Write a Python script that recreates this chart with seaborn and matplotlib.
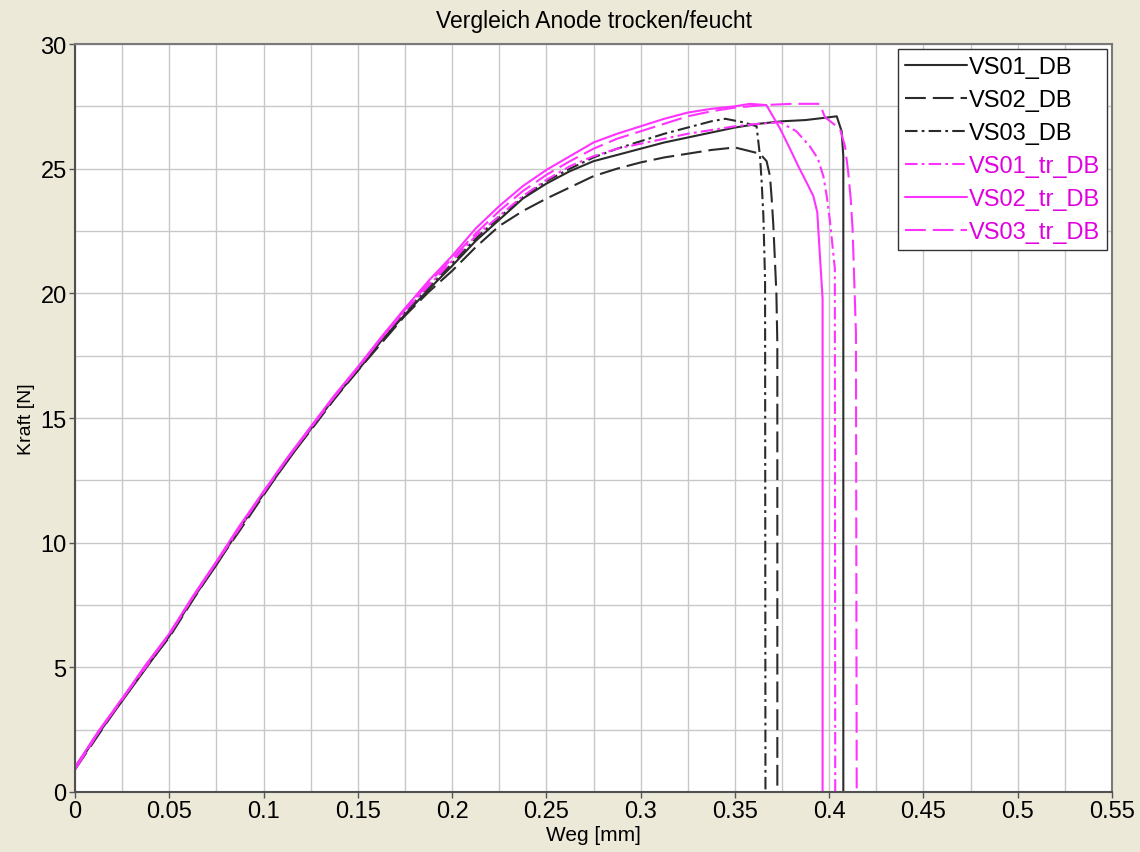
import numpy as np
import pandas as pd
import matplotlib
matplotlib.use('Agg')
import matplotlib.pyplot as plt
import seaborn as sns

# Weg [mm] / Kraft [N]
rise_x = [0, 0.0125, 0.025, 0.0375, 0.05, 0.0625, 0.075, 0.0875, 0.1, 0.1125,
          0.125, 0.1375, 0.15, 0.1625, 0.175]

vs01_db_x = rise_x + [0.1875, 0.2, 0.2125, 0.225, 0.2375, 0.25, 0.2625, 0.275, 0.2875, 0.3,
                      0.3125, 0.325, 0.3375, 0.35, 0.3625, 0.375, 0.3875, 0.3987, 0.404,
                      0.4066, 0.4075, 0.4075]
vs01_db_y = [0.95, 2.35, 3.65, 4.95, 6.25, 7.75, 9.1, 10.6, 11.95, 13.25, 14.55, 15.8, 16.9,
             18.1, 19.15, 20.15, 21.1, 22.1, 22.95, 23.8, 24.4, 24.9, 25.3, 25.55, 25.8,
             26.05, 26.25, 26.45, 26.65, 26.8, 26.9, 26.95, 27.05, 27.1, 26.5, 25.5, 0]

vs02_db_x = rise_x + [0.1875, 0.2, 0.2125, 0.225, 0.2375, 0.25, 0.2625, 0.275, 0.2875, 0.3,
                      0.3125, 0.325, 0.3375, 0.35, 0.358, 0.3633, 0.3668, 0.3686, 0.3695,
                      0.3704, 0.372, 0.3725, 0.3725]
vs02_db_y = [0.9, 2.3, 3.7, 5.0, 6.2, 7.7, 9.15, 10.5, 11.9, 13.3, 14.5, 15.75, 16.9, 18.0,
             19.1, 20.05, 20.9, 21.85, 22.7, 23.3, 23.8, 24.25, 24.7, 25.0, 25.25, 25.45,
             25.6, 25.75, 25.85, 25.7, 25.6, 25.3, 24.7, 23.8, 22.7, 20.0, 18.0, 0]

vs03_db_x = rise_x + [0.1875, 0.2, 0.2125, 0.225, 0.2375, 0.25, 0.2625, 0.275, 0.2875, 0.3,
                      0.3125, 0.325, 0.3375, 0.345, 0.355, 0.3615, 0.3633, 0.3642, 0.3651,
                      0.366, 0.3662]
vs03_db_y = [1.0, 2.4, 3.7, 5.05, 6.3, 7.8, 9.2, 10.65, 12.0, 13.3, 14.6, 15.85, 17.0, 18.15,
             19.25, 20.25, 21.2, 22.2, 23.05, 23.85, 24.5, 25.0, 25.45, 25.8, 26.1, 26.4,
             26.65, 26.9, 27.0, 26.85, 26.7, 25.5, 24.45, 23.1, 20.5, 0]

vs01_tr_x = rise_x + [0.1875, 0.2, 0.2125, 0.225, 0.2375, 0.25, 0.2625, 0.275, 0.2875, 0.3,
                      0.3125, 0.325, 0.3375, 0.35, 0.3625, 0.374, 0.3826, 0.3897, 0.394,
                      0.3969, 0.3987, 0.4004, 0.403, 0.4032]
vs01_tr_y = [0.95, 2.4, 3.75, 5.0, 6.35, 7.8, 9.2, 10.6, 12.05, 13.35, 14.6, 15.85, 17.0,
             18.2, 19.3, 20.3, 21.3, 22.3, 23.1, 23.9, 24.55, 25.1, 25.5, 25.8, 26.0, 26.2,
             26.4, 26.55, 26.7, 26.8, 26.86, 26.5, 25.9, 25.4, 24.7, 23.9, 22.9, 21.0, 0]

vs02_tr_x = rise_x + [0.1875, 0.2, 0.2125, 0.225, 0.2375, 0.25, 0.2625, 0.275, 0.2875, 0.3,
                      0.3125, 0.325, 0.3375, 0.35, 0.358, 0.3667, 0.374, 0.3792, 0.3836,
                      0.388, 0.3916, 0.3937, 0.3942, 0.3955, 0.3965, 0.3965]
vs02_tr_y = [1.0, 2.45, 3.75, 5.1, 6.35, 7.85, 9.25, 10.7, 12.05, 13.4, 14.65, 15.9, 17.05,
             18.25, 19.4, 20.5, 21.5, 22.6, 23.5, 24.3, 24.95, 25.5, 26.05, 26.4, 26.7, 27.0,
             27.25, 27.4, 27.5, 27.6, 27.55, 26.6, 25.8, 25.1, 24.45, 23.9, 23.25, 22.6,
             21.0, 19.8, 0]

vs03_tr_x = rise_x + [0.1875, 0.2, 0.2125, 0.225, 0.2375, 0.25, 0.2625, 0.275, 0.2875, 0.3,
                      0.3125, 0.325, 0.3375, 0.35, 0.365, 0.38, 0.395, 0.3978, 0.4057,
                      0.4084, 0.4101, 0.4114, 0.4124, 0.4142, 0.4146]
vs03_tr_y = [0.9, 2.4, 3.7, 5.05, 6.3, 7.8, 9.2, 10.65, 12.0, 13.35, 14.6, 15.85, 17.0,
             18.2, 19.35, 20.4, 21.4, 22.4, 23.3, 24.1, 24.75, 25.3, 25.8, 26.2, 26.5, 26.8,
             27.1, 27.3, 27.45, 27.55, 27.6, 27.6, 27.06, 26.6, 25.9, 24.85, 23.8, 22.6,
             18.4, 0]

names = ['VS01_DB', 'VS02_DB', 'VS03_DB', 'VS01_tr_DB', 'VS02_tr_DB', 'VS03_tr_DB']
xs = [vs01_db_x, vs02_db_x, vs03_db_x, vs01_tr_x, vs02_tr_x, vs03_tr_x]
ys = [vs01_db_y, vs02_db_y, vs03_db_y, vs01_tr_y, vs02_tr_y, vs03_tr_y]

x_ticks = [0, 0.05, 0.1, 0.15, 0.2, 0.25, 0.3, 0.35, 0.4, 0.45, 0.5, 0.55]
x_labels = ['0', '0.05', '0.1', '0.15', '0.2', '0.25', '0.3', '0.35', '0.4', '0.45', '0.5', '0.55']
y_ticks = [0, 5, 10, 15, 20, 25, 30]

dark = '#2b2b2b'
mag = '#ff33ff'
colors = [dark, dark, dark, mag, mag, mag]
styles = ['-', (0, (15, 5)), (0, (9, 3, 2, 3)), (0, (9, 3, 2, 3)), '-', (0, (15, 5))]
text_colors = ['black', 'black', 'black', '#e000e0', '#e000e0', '#e000e0']

sns.set_style('white')
plt.rcParams['font.family'] = ['Liberation Sans', 'DejaVu Sans']
plt.rcParams['lines.scale_dashes'] = False

fig = plt.figure(figsize=(11.4, 8.53), dpi=100, facecolor='#ece9d8')
ax = fig.add_axes([75 / 1140, 1 - 793 / 853, 1037 / 1140, 748 / 853])
ax.set_facecolor('white')

for name, x, y, c, ls in zip(names, xs, ys, colors, styles):
    df = pd.DataFrame({'Weg': x, 'Kraft': y})
    sns.lineplot(data=df, x='Weg', y='Kraft', sort=False, estimator=None, ax=ax,
                 color=c, linestyle=ls, linewidth=1.5, label=name)

ax.set_xlim(0, 0.55)
ax.set_ylim(0, 30)
ax.set_xticks(x_ticks)
ax.set_xticklabels(x_labels)
ax.set_yticks(y_ticks)
ax.set_xticks(np.arange(0.025, 0.55, 0.05), minor=True)
ax.set_yticks(np.arange(2.5, 30, 5), minor=True)
ax.grid(True, which='both', color='#c8c8c8', linewidth=1)
ax.set_axisbelow(True)
ax.tick_params(which='major', direction='out', length=4, width=1, color='#555555',
               labelsize=17, labelcolor='black', pad=2, bottom=True, left=True)
ax.tick_params(which='minor', length=0)

for s in ['left', 'bottom']:
    ax.spines[s].set_color('#505050')
    ax.spines[s].set_linewidth(1.5)
for s in ['top', 'right']:
    ax.spines[s].set_color('#7a7a7a')
    ax.spines[s].set_linewidth(1.5)

ax.set_xlabel('Weg [mm]', fontsize=15, labelpad=2, color='black')
ax.set_ylabel('Kraft [N]', fontsize=14, labelpad=4, color='black')
ax.set_title('Vergleich Anode trocken/feucht', fontsize=16.5, pad=12, color='black')

leg = ax.legend(loc='upper right', fontsize=17, frameon=True, fancybox=False,
                framealpha=1, edgecolor='#333333', handlelength=2.6, handletextpad=0.1,
                labelspacing=0.47, borderpad=0.3, borderaxespad=0.2)
leg.get_frame().set_linewidth(1)
for t, c in zip(leg.get_texts(), text_colors):
    t.set_color(c)

fig.savefig('out.png', dpi=100, facecolor=fig.get_facecolor())
